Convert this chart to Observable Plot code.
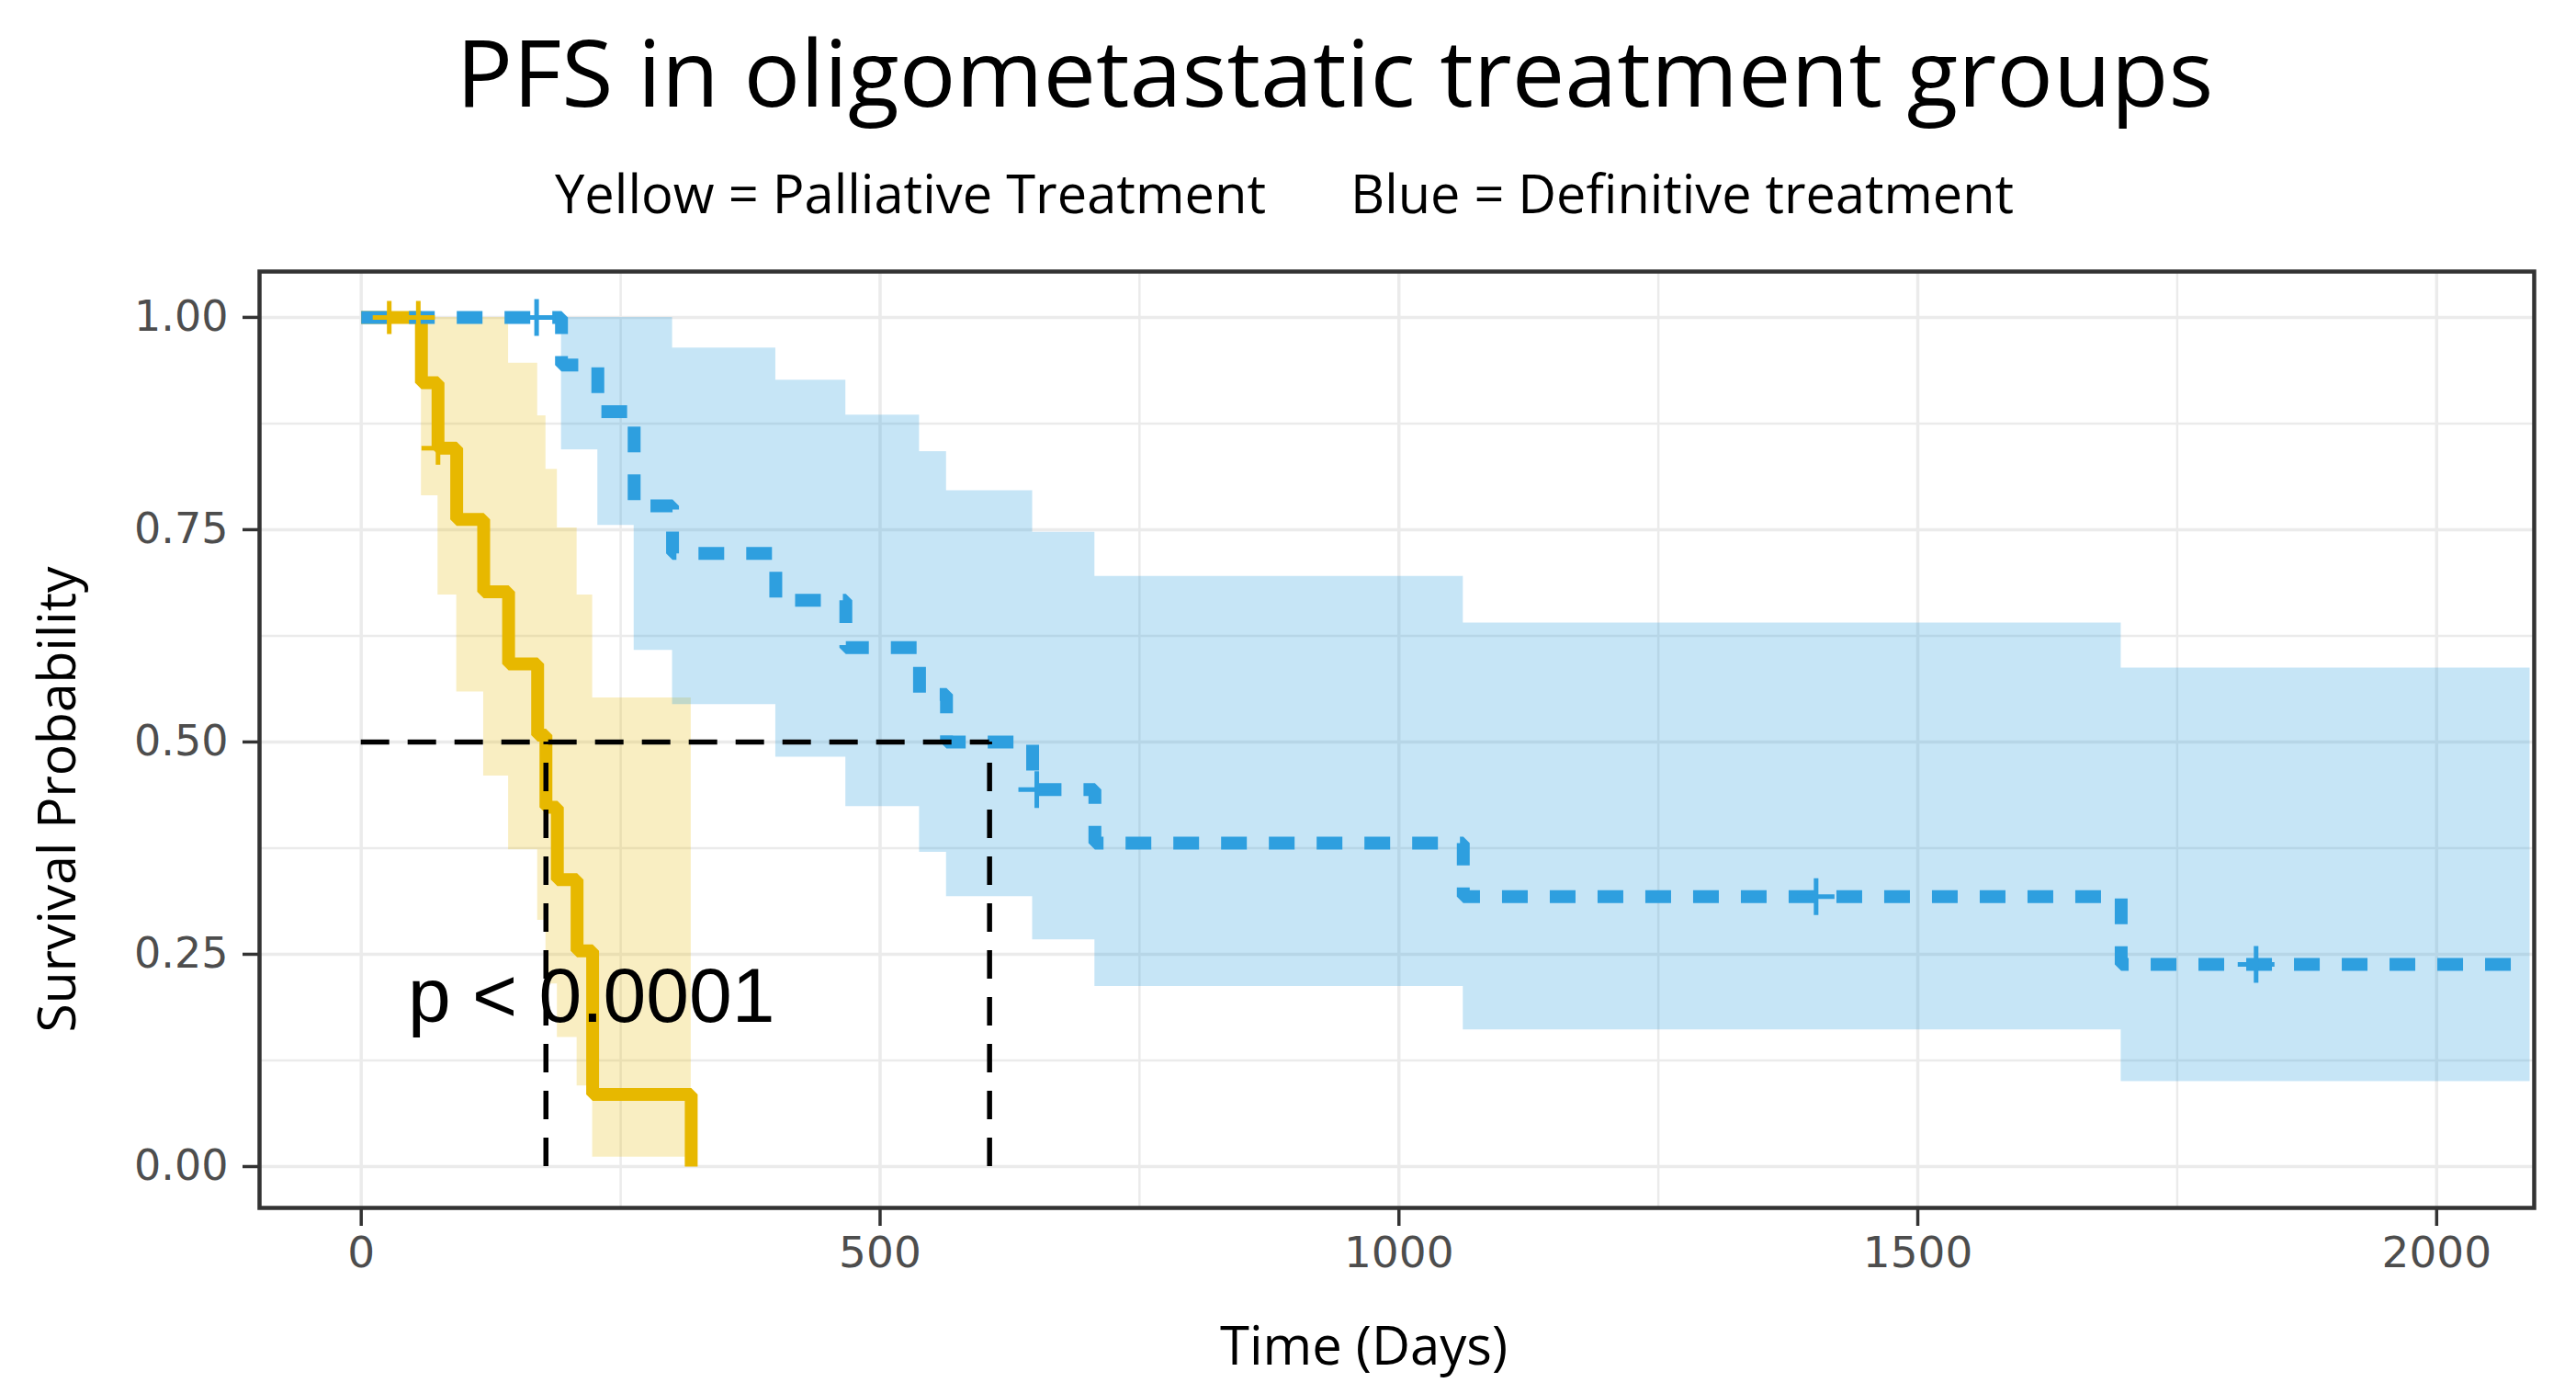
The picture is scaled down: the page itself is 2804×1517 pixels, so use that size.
<!DOCTYPE html>
<html>
<head>
<meta charset="utf-8">
<script src="https://cdn.jsdelivr.net/npm/d3@7"></script>
<script src="https://cdn.jsdelivr.net/npm/@observablehq/plot@0.6"></script>
<style>
html, body { margin: 0; padding: 0; background: #ffffff; }
#wrap { width: 2804px; height: 1517px; overflow: hidden; background: #ffffff; }
#wrap svg { display: block; }
</style>
</head>
<body>
<div id="wrap"></div>
<script>
// ---------- texts ----------
const titleText = "PFS in oligometastatic treatment groups";
const legendTexts = ["Yellow = Palliative Treatment", "Blue = Definitive treatment"];
const xLabel = "Time (Days)";
const yLabel = "Survival Probability";
const pLabel = "p < 0.0001";

// ---------- ticks ----------
const xTicks = [0, 500, 1000, 1500, 2000];
const xMinor = [250, 750, 1250, 1750];
const yTicks = [0, 0.25, 0.5, 0.75, 1];
const yMinor = [0.125, 0.375, 0.625, 0.875];

// ---------- Palliative (yellow) ----------
const palliativeTime  = [0, 58, 74, 92, 118, 142, 170, 178, 189, 208, 223, 318];
const palliativeSurv  = [1, 0.923, 0.846, 0.762, 0.677, 0.592, 0.508, 0.423, 0.338, 0.254, 0.085, 0];
const palliativeUpper = [1, 1, 1, 1, 1, 0.946, 0.884, 0.821, 0.752, 0.673, 0.552, 0.011];
const palliativeLower = [1, 0.79, 0.673, 0.559, 0.46, 0.373, 0.29, 0.215, 0.152, 0.095, 0.011, 0.011];
const palliativeCensorTime = [27, 55, 74];
const palliativeCensorSurv = [1, 1, 0.846];

// ---------- Definitive (blue) ----------
const definitiveTime  = [0, 193, 228, 263, 300, 399.5, 467, 538, 564, 647, 707, 1062, 1696, 2090];
const definitiveSurv  = [1, 0.944, 0.889, 0.778, 0.722, 0.667, 0.611, 0.556, 0.5, 0.444, 0.381, 0.318, 0.238, 0.238];
const definitiveUpper = [1, 1, 1, 1, 0.964, 0.926, 0.885, 0.842, 0.796, 0.747, 0.695, 0.640, 0.587, 0.587];
const definitiveLower = [1, 0.844, 0.755, 0.608, 0.544, 0.482, 0.424, 0.370, 0.318, 0.267, 0.212, 0.161, 0.100, 0.100];
const definitiveCensorTime = [169, 651, 1402, 1826];
const definitiveCensorSurv = [1, 0.444, 0.318, 0.238];

// ---------- medians ----------
const medianTimes = [178, 605.5];
const medianLevel = 0.5;

// ---------- colours ----------
const yellow = "#E7B800";
const blue = "#2E9FDF";

// ---------- tables ----------
const palliative = palliativeTime.map((t, i) => ({time: t, surv: palliativeSurv[i], upper: palliativeUpper[i], lower: palliativeLower[i]}));
const definitive = definitiveTime.map((t, i) => ({time: t, surv: definitiveSurv[i], upper: definitiveUpper[i], lower: definitiveLower[i]}));
const palliativeCensor = palliativeCensorTime.map((t, i) => ({time: t, surv: palliativeCensorSurv[i]}));
const definitiveCensor = definitiveCensorTime.map((t, i) => ({time: t, surv: definitiveCensorSurv[i]}));
const medianH = [{y: medianLevel, x1: 0, x2: d3.max(medianTimes)}];
const medianV = medianTimes.map(t => ({x: t, y1: 0, y2: medianLevel}));

const plusSymbol = {
  draw(context, size) {
    const r = Math.sqrt(size / Math.PI);
    context.moveTo(-r, 0); context.lineTo(r, 0);
    context.moveTo(0, -r); context.lineTo(0, r);
  }
};

// ---------- header (title + legend line) ----------
const header = d3.create("svg").attr("width", 2804).attr("height", 260);
header.append("text")
  .attr("x", 1453).attr("y", 116)
  .attr("text-anchor", "middle")
  .attr("font-family", "Open Sans").attr("font-size", 100).attr("fill", "#000")
  .attr("textLength", 1913).attr("lengthAdjust", "spacingAndGlyphs")
  .text(titleText);
header.append("text")
  .attr("x", 604).attr("y", 232)
  .attr("font-family", "Open Sans").attr("font-size", 58).attr("fill", "#000")
  .attr("textLength", 774).attr("lengthAdjust", "spacingAndGlyphs")
  .text(legendTexts[0]);
header.append("text")
  .attr("x", 1470).attr("y", 232)
  .attr("font-family", "Open Sans").attr("font-size", 58).attr("fill", "#000")
  .attr("textLength", 722).attr("lengthAdjust", "spacingAndGlyphs")
  .text(legendTexts[1]);

// ---------- chart ----------
const chart = Plot.plot({
  width: 2804,
  height: 1257,
  marginLeft: 282,
  marginRight: 46,
  marginTop: 35,
  marginBottom: 203,
  style: {background: "#ffffff"},
  x: {domain: [-98, 2094]},
  y: {domain: [-0.0487, 1.054]},
  marks: [
    Plot.gridX(xMinor, {stroke: "#EBEBEB", strokeOpacity: 1, strokeWidth: 2.5}),
    Plot.gridY(yMinor, {stroke: "#EBEBEB", strokeOpacity: 1, strokeWidth: 2.5}),
    Plot.gridX(xTicks, {stroke: "#EBEBEB", strokeOpacity: 1, strokeWidth: 3.5}),
    Plot.gridY(yTicks, {stroke: "#EBEBEB", strokeOpacity: 1, strokeWidth: 3.5}),
    Plot.areaY(palliative, {x: "time", y1: "lower", y2: "upper", curve: "step-after", fill: yellow, fillOpacity: 0.24}),
    Plot.areaY(definitive, {x: "time", y1: "lower", y2: "upper", curve: "step-after", fill: blue, fillOpacity: 0.27}),
    Plot.line(palliative, {x: "time", y: "surv", curve: "step-after", stroke: yellow, strokeWidth: 14, strokeLinejoin: "miter", strokeLinecap: "butt"}),
    Plot.line(definitive, {x: "time", y: "surv", curve: "step-after", stroke: blue, strokeWidth: 14, strokeDasharray: "28,24", strokeLinejoin: "miter", strokeLinecap: "butt"}),
    Plot.dot(palliativeCensor, {x: "time", y: "surv", symbol: plusSymbol, r: 18, stroke: yellow, strokeWidth: 5, fill: "none"}),
    Plot.dot(definitiveCensor, {x: "time", y: "surv", symbol: plusSymbol, r: 20, stroke: blue, strokeWidth: 5, fill: "none"}),
    Plot.ruleY(medianH, {y: "y", x1: "x1", x2: "x2", stroke: "#000", strokeWidth: 5.5, strokeDasharray: "31,20"}),
    Plot.ruleX(medianV, {x: "x", y1: "y1", y2: "y2", stroke: "#000", strokeWidth: 5.5, strokeDasharray: "31,20"}),
    Plot.text([pLabel], {x: 45, y: 0.2, text: d => d, textAnchor: "start", lineAnchor: "middle", fontSize: 84, fontFamily: "Liberation Sans", fill: "#000"}),
    Plot.frame({stroke: "#333333", strokeWidth: 4.5}),
    Plot.axisX(xTicks, {tickSize: 20, tickPadding: 11, fontSize: 47, fontFamily: "DejaVu Sans", fill: "#4D4D4D", stroke: "#333333", strokeWidth: 3.5, label: null, tickFormat: d => String(d)}),
    Plot.axisY(yTicks, {tickSize: 18, tickPadding: 16, fontSize: 46, fontFamily: "DejaVu Sans", fill: "#4D4D4D", stroke: "#333333", strokeWidth: 3.5, label: null, tickFormat: d3.format(".2f")}),
    Plot.text([xLabel], {frameAnchor: "bottom", dy: 152, dx: -36, text: d => d, textAnchor: "middle", lineAnchor: "middle", fontSize: 58, fontFamily: "Open Sans", fill: "#000"}),
    Plot.text([yLabel], {frameAnchor: "left", dx: -219, dy: 65, rotate: -90, text: d => d, textAnchor: "middle", lineAnchor: "middle", fontSize: 57, fontFamily: "Open Sans", fill: "#000"})
  ]
});

const wrap = document.getElementById("wrap");
wrap.appendChild(header.node());
wrap.appendChild(chart);
</script>
</body>
</html>
